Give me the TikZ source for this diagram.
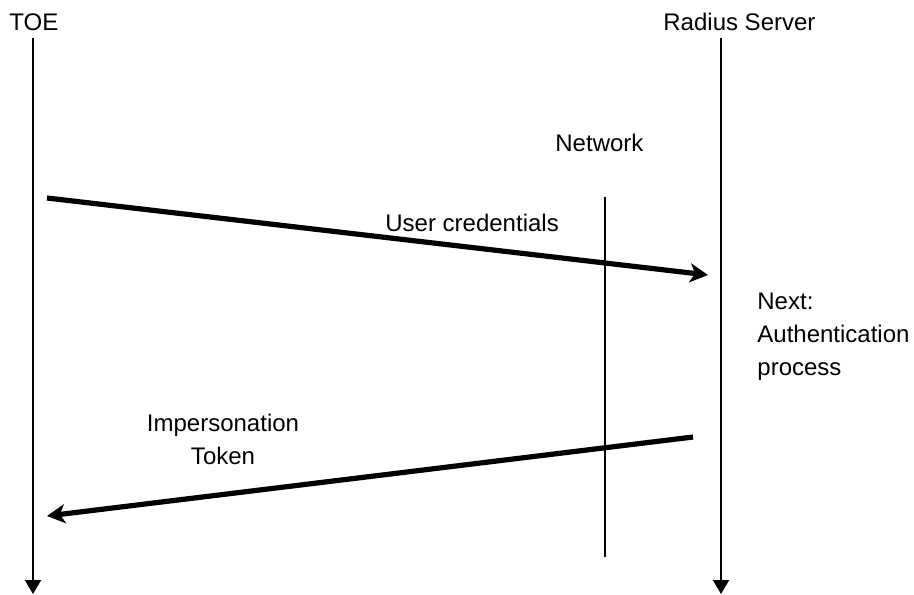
\documentclass[tikz,border=0pt]{standalone}
\usepackage{fontspec}
\setmainfont{Liberation Sans}
\usetikzlibrary{arrows.meta}

\begin{document}
\begin{tikzpicture}[x=0.5pt,y=-0.5pt,
  every node/.style={inner sep=0pt,font=\fontsize{12}{16.5}\selectfont},
  lbl/.style={anchor=base west},
  lifeline/.style={line width=1pt,-{Triangle[width=8pt,length=7pt]}},
  msg/.style={line width=2.6pt,-{Stealth[width=9.5pt,length=9pt,inset=2.5pt]}}]
\useasboundingbox (0,0) rectangle (914,594);
\node[lbl] (toe) at (9,30) {TOE};
\node[lbl] (radius) at (663,30) {Radius Server};
\node[lbl] (network) at (555,151) {Network};
\node[lbl] (cred) at (385,231) {User credentials};
\node[anchor=base west,align=left] (next) at (757,375) {Next:\\Authentication\\process};
\node[anchor=base,align=center] (token) at (223,464) {Impersonation\\Token};
\coordinate (toetop) at (33,38);
\coordinate (toebot) at (33,594);
\coordinate (radtop) at (721,38);
\coordinate (radbot) at (721,594);
\coordinate (nettop) at (605,197);
\coordinate (netbot) at (605,557);
\coordinate (credA) at (47,198);
\coordinate (credB) at (708,275);
\coordinate (tokA) at (693,437);
\coordinate (tokB) at (47,516);
\draw[lifeline] (toetop) -- (toebot);
\draw[lifeline] (radtop) -- (radbot);
\draw[line width=0.65pt] (nettop) -- (netbot);
\draw[msg] (credA) -- (credB);
\draw[msg] (tokA) -- (tokB);
\end{tikzpicture}
\end{document}
